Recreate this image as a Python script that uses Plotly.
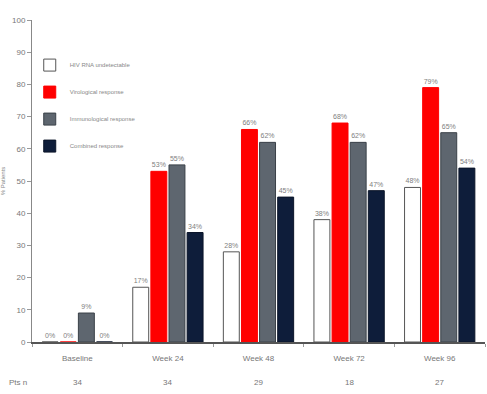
import plotly.graph_objects as go

# Visit time points and patients assessed at each
visits = ["Baseline", "Week 24", "Week 48", "Week 72", "Week 96"]
patients_n = ["34", "34", "29", "18", "27"]

# Percentage of patients per response category
no_measurable = [0, 17, 28, 38, 48]
virological = [0, 53, 66, 68, 79]
immunological = [9, 55, 62, 62, 65]
combined = [0, 34, 45, 47, 54]

series = [
    ("HIV RNA undetectable", no_measurable, "#ffffff", "#555555"),
    ("Virological response", virological, "#ff0000", "#ff0000"),
    ("Immunological response", immunological, "#5e666f", "#3a4048"),
    ("Combined response", combined, "#0e1d3a", "#0a1428"),
]

fig = go.Figure()
for i, (name, vals, fill, edge) in enumerate(series):
    fig.add_trace(go.Bar(
        name=name,
        x=visits,
        y=vals,
        marker=dict(color=fill, line=dict(color=edge, width=1)),
        text=[f"{v}%" for v in vals],
        textposition="outside",
        textfont=dict(size=7, color="#808080", family="Liberation Sans Narrow, Arial Narrow, sans-serif"),
        cliponaxis=False,
        legendgroup=f"g{i}",
    ))

# Row of patient counts under the category labels
for v, n in zip(visits, patients_n):
    fig.add_annotation(x=v, xref="x", y=-0.105, yref="paper", yanchor="top", text=n,
                       showarrow=False, font=dict(size=8, color="#777777"))
fig.add_annotation(x=-0.055, xref="paper", y=-0.105, yref="paper", yanchor="top", text="Pts n",
                   showarrow=False, font=dict(size=8, color="#777777"))

fig.update_layout(
    width=487, height=394,
    margin=dict(l=32, r=2, t=20, b=52),
    paper_bgcolor="white", plot_bgcolor="white",
    barmode="group", bargap=0.2, bargroupgap=0.12,
    font=dict(family="Liberation Sans, Arial, sans-serif", size=8, color="#777777"),
    legend=dict(x=-0.005, y=0.905, xanchor="left", yanchor="top",
                font=dict(size=6, color="#888888"), tracegroupgap=8,
                bgcolor="rgba(0,0,0,0)", itemwidth=30),
    showlegend=True,
    xaxis=dict(showline=True, linecolor="#555555", linewidth=1.5,
               ticks="outside", ticklen=3, tickcolor="#999999", tickson="boundaries",
               ticklabelstandoff=8,
               tickfont=dict(size=8, color="#777777"), showgrid=False),
    yaxis=dict(range=[0, 100], dtick=10, showline=True, linecolor="#888888", linewidth=1,
               ticks="outside", ticklen=4, tickcolor="#999999",
               tickfont=dict(size=8, color="#777777"), showgrid=False, zeroline=False,
               title=dict(text="% Patients", font=dict(size=6, color="#888888"), standoff=6)),
)

fig.write_html("out.html")
